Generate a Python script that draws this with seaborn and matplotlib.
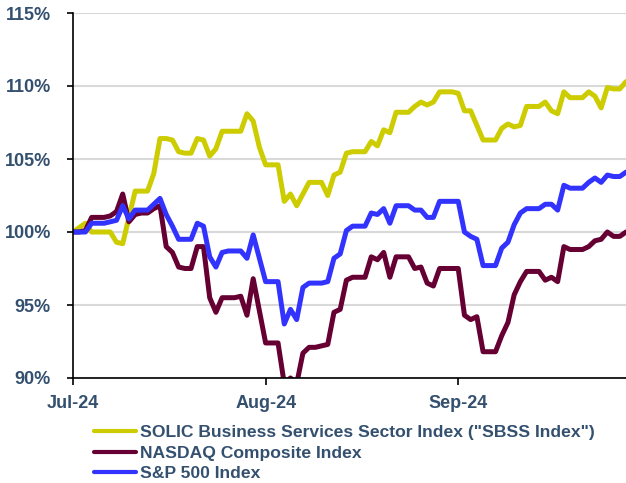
import numpy as np
import pandas as pd
import matplotlib
matplotlib.use("Agg")
import matplotlib.pyplot as plt
import matplotlib.dates as mdates
import seaborn as sns

dates = pd.date_range("2024-07-01", "2024-09-28", freq="D")

sbss = [100.0, 100.3, 100.6, 100.0, 100.0, 100.0, 100.0, 99.3, 99.2, 101.0,
        102.8, 102.8, 102.8, 104.0, 106.4, 106.4, 106.3, 105.5, 105.4, 105.4,
        106.4, 106.3, 105.2, 105.7, 106.9, 106.9, 106.9, 106.9, 108.1, 107.6,
        105.8, 104.6, 104.6, 104.6, 102.1, 102.6, 101.8, 102.6, 103.4, 103.4,
        103.4, 102.5, 103.9, 104.1, 105.4, 105.5, 105.5, 105.5, 106.2, 105.9,
        107.0, 106.8, 108.2, 108.2, 108.2, 108.6, 108.9, 108.7, 108.9, 109.6,
        109.6, 109.6, 109.5, 108.3, 108.3, 107.3, 106.3, 106.3, 106.3, 107.1,
        107.4, 107.2, 107.3, 108.6, 108.6, 108.6, 108.9, 108.3, 108.1, 109.6,
        109.2, 109.2, 109.2, 109.6, 109.3, 108.5, 109.9, 109.8, 109.8, 110.3]

nasdaq = [100.0, 100.0, 100.1, 101.0, 101.0, 101.0, 101.1, 101.4, 102.6, 100.7,
          101.2, 101.3, 101.3, 101.6, 101.8, 99.0, 98.6, 97.6, 97.5, 97.5,
          99.0, 99.0, 95.5, 94.5, 95.5, 95.5, 95.5, 95.6, 94.3, 96.8,
          94.6, 92.4, 92.4, 92.4, 89.6, 90.0, 89.6, 91.7, 92.1, 92.1,
          92.2, 92.3, 94.5, 94.7, 96.7, 96.9, 96.9, 96.9, 98.3, 98.1,
          98.6, 96.9, 98.3, 98.3, 98.3, 97.5, 97.6, 96.5, 96.3, 97.5,
          97.5, 97.5, 97.5, 94.3, 94.0, 94.2, 91.8, 91.8, 91.8, 92.9,
          93.8, 95.7, 96.6, 97.3, 97.3, 97.3, 96.7, 96.9, 96.6, 99.0,
          98.8, 98.8, 98.8, 99.0, 99.4, 99.5, 100.0, 99.7, 99.7, 100.0]

sp500 = [100.0, 100.0, 100.0, 100.6, 100.6, 100.6, 100.7, 100.8, 101.8, 100.9,
         101.5, 101.5, 101.5, 101.9, 102.3, 101.2, 100.4, 99.5, 99.5, 99.5,
         100.6, 100.4, 98.3, 97.6, 98.6, 98.7, 98.7, 98.7, 98.2, 99.8,
         98.2, 96.6, 96.6, 96.6, 93.7, 94.7, 94.0, 96.2, 96.5, 96.5,
         96.5, 96.6, 98.2, 98.5, 100.1, 100.4, 100.4, 100.4, 101.3, 101.2,
         101.6, 100.6, 101.8, 101.8, 101.8, 101.5, 101.5, 101.0, 101.0, 102.1,
         102.1, 102.1, 102.1, 100.0, 99.7, 99.5, 97.7, 97.7, 97.7, 98.9,
         99.3, 100.5, 101.3, 101.6, 101.6, 101.6, 101.9, 101.9, 101.5, 103.2,
         103.0, 103.0, 103.0, 103.4, 103.7, 103.4, 103.9, 103.8, 103.8, 104.1]

series_names = ['SOLIC Business Services Sector Index ("SBSS Index")',
                "NASDAQ Composite Index",
                "S&P 500 Index"]
colors = ["#CCCC00", "#660033", "#3333FF"]
y_ticks = [90, 95, 100, 105, 110, 115]
x_ticks = ["2024-07-01", "2024-08-01", "2024-09-01"]

df = pd.concat([
    pd.DataFrame({"date": dates, "value": vals, "series": name})
    for name, vals in zip(series_names, [sbss, nasdaq, sp500])
], ignore_index=True)

sns.set_style("white")
plt.rcParams["font.family"] = ["Liberation Sans", "DejaVu Sans"]

text_color = "#34506F"

fig = plt.figure(figsize=(6.26, 4.83), dpi=100)
ax = fig.add_axes([73 / 626, 1 - 378 / 483, 1 - 73 / 626, (378 - 13) / 483])

sns.lineplot(data=df, x="date", y="value", hue="series", palette=colors,
             hue_order=series_names, linewidth=3.6, legend=False, ax=ax,
             clip_on=True)

ax.set_ylim(90, 115)
ax.set_xlim(dates[0], dates[-1])
ax.set_yticks(y_ticks)
ax.set_yticklabels([f"{t}%" for t in y_ticks])
ax.set_xticks(pd.to_datetime(x_ticks))
ax.xaxis.set_major_formatter(mdates.DateFormatter("%b-%y"))
ax.set_xlabel("")
ax.set_ylabel("")

ax.grid(axis="y", color="#D9D9D9", linewidth=1.5)
ax.grid(axis="x", visible=False)
ax.set_axisbelow(True)
for s in ["top", "right"]:
    ax.spines[s].set_visible(False)
for s in ["left", "bottom"]:
    ax.spines[s].set_color("black")
    ax.spines[s].set_linewidth(1.2)
    ax.spines[s].set_zorder(5)

ax.tick_params(axis="y", direction="out", length=4, width=1.2, color="black",
               labelsize=13, labelcolor=text_color, pad=12, left=True)
ax.tick_params(axis="x", direction="out", length=5, width=1.2, color="black",
               labelsize=13, labelcolor=text_color, pad=7, bottom=True)
for lab in ax.get_xticklabels() + ax.get_yticklabels():
    lab.set_fontweight("bold")

handles = [plt.Line2D([], [], color=c, linewidth=3) for c in colors]
leg = fig.legend(handles, series_names, loc="upper left",
                 bbox_to_anchor=(94 / 626, 1 - 425 / 483),
                 frameon=False, handlelength=2.4, handletextpad=0.25,
                 labelspacing=0.3, borderaxespad=0, borderpad=0,
                 prop={"size": 12.6, "weight": "bold"})
for t in leg.get_texts():
    t.set_color(text_color)

fig.savefig("out.png", dpi=100)
